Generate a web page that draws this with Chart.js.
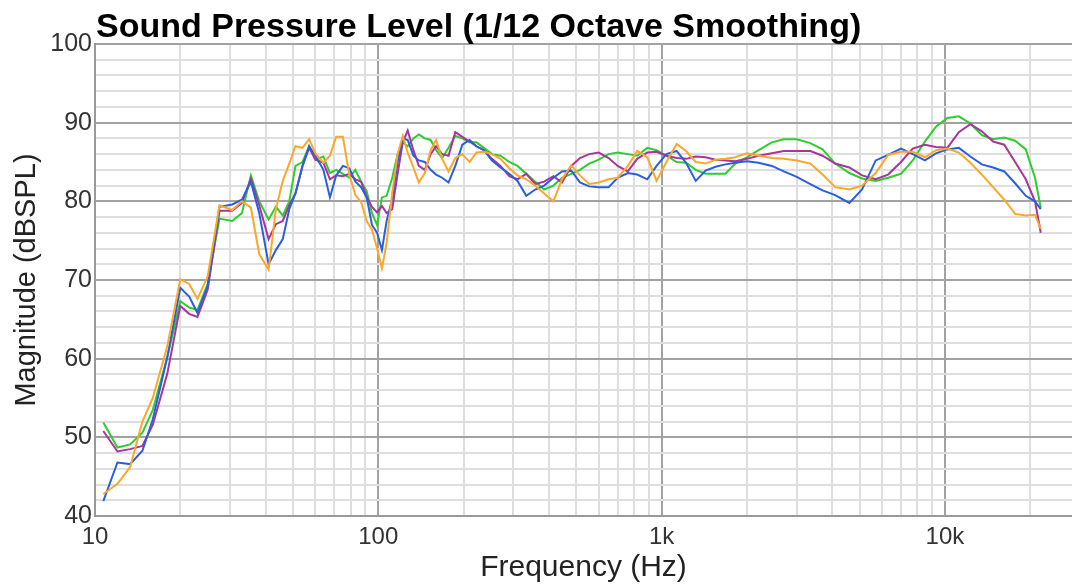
<!DOCTYPE html>
<html>
<head>
<meta charset="utf-8">
<script src="https://cdn.jsdelivr.net/npm/chart.js@4.4.1/dist/chart.umd.min.js"></script>
<style>
  html, body { margin: 0; padding: 0; background: #fff; }
  #wrap { width: 1072px; height: 588px; }
</style>
</head>
<body>
<div id="wrap"><canvas id="splChart" width="1072" height="588"></canvas></div>
<script>
// frequency points (Hz) shared by every measurement
const freqs = [
  10.7, 12, 13.3, 14.7, 16, 18, 20, 21.5, 23, 25,
  27.5, 30.5, 33, 35.5, 38, 41, 43.5, 46, 48.5, 51,
  54, 57, 60, 64, 67.5, 71, 75, 79, 83, 87,
  91, 95, 99, 103, 107, 112, 117, 122, 127, 133,
  139, 146, 153, 160, 168, 177, 187, 198, 210, 222,
  236, 252, 270, 290, 310, 333, 358, 385, 415, 445,
  480, 515, 555, 600, 650, 700, 760, 820, 890, 960,
  1040, 1130, 1220, 1320, 1430, 1550, 1680, 1820, 2000, 2200,
  2450, 2700, 3000, 3350, 3700, 4100, 4600, 5100, 5700, 6300,
  7000, 7700, 8500, 9300, 10200, 11200, 12300, 13500, 14800, 16200,
  17700, 19300, 20800, 21800
];

// SPL in dB
const greenSpl = [
  51.9, 48.7, 49.1, 50.6, 53.5, 60.2, 67.3, 66.5, 66.2, 69.5,
  77.8, 77.5, 78.5, 83.3, 80.0, 77.7, 79.3, 78.2, 80.0, 84.5,
  85.0, 87.0, 85.3, 85.7, 83.6, 84.0, 83.5, 83.0, 84.0, 82.5,
  81.3, 78.5, 77.0, 80.5, 80.7, 83.0, 86.0, 87.5, 87.0, 88.0,
  88.5, 88.0, 87.8, 86.5, 85.5, 86.8, 88.3, 88.0, 87.5, 87.5,
  86.8, 86.0, 85.8, 85.0, 84.5, 83.5, 82.5, 81.5, 82.0, 83.0,
  83.5, 84.0, 84.8, 85.3, 86.0, 86.2, 86.0, 85.8, 86.8, 86.5,
  85.8, 85.0, 84.9, 84.0, 83.5, 83.5, 83.5, 84.8, 85.6, 86.5,
  87.5, 87.9, 87.9, 87.4, 86.6, 84.8, 83.6, 82.9, 82.6, 83.0,
  83.5, 85.2, 87.6, 89.5, 90.6, 90.8, 89.9, 88.4, 87.9, 88.1,
  87.7, 86.6, 83.0, 79.2
];
const magentaSpl = [
  50.8, 48.2, 48.5, 48.9, 51.6, 58.1, 66.7, 65.7, 65.3, 68.8,
  78.8, 78.8, 79.8, 82.9, 79.5, 75.2, 77.1, 77.5, 79.5, 81.0,
  84.5, 86.8, 85.3, 84.9, 82.8, 83.3, 83.2, 83.5, 82.8, 82.5,
  80.6, 79.3, 78.6, 79.4, 78.5, 79.0, 83.5, 87.5, 89.0, 86.5,
  84.5, 84.0, 86.0, 87.0, 86.0, 85.8, 88.8, 88.2, 87.6, 87.0,
  86.5, 85.4, 84.5, 83.2, 82.8, 83.5, 82.2, 82.5, 83.2, 82.4,
  84.5, 85.5, 86.0, 86.2, 85.5, 84.5, 83.8, 85.4, 86.2, 86.3,
  85.8, 85.5, 85.4, 85.7, 85.6, 85.3, 85.2, 85.1, 85.4, 85.8,
  86.1, 86.4, 86.4, 86.4, 85.8, 84.8, 84.3, 83.3, 82.8, 83.4,
  85.0, 86.7, 87.2, 86.9, 86.8, 88.8, 89.8, 88.9, 87.6, 87.2,
  85.0, 82.8, 80.0, 76.0
];
const blueSpl = [
  41.9, 46.8, 46.6, 48.3, 52.3, 60.2, 69.0, 67.9, 65.8, 69.3,
  79.3, 79.6, 80.2, 82.5, 78.5, 72.0, 73.8, 75.2, 79.0, 81.0,
  84.5, 87.0, 85.8, 84.0, 80.5, 83.3, 84.5, 84.2, 82.5, 81.8,
  80.5, 77.0, 76.0, 73.8, 77.5, 80.3, 85.0, 88.0, 87.8, 85.8,
  85.2, 85.0, 84.0, 83.4, 83.0, 82.4, 84.5, 87.2, 87.8, 87.0,
  86.5, 85.2, 84.3, 83.5, 82.6, 80.7, 81.5, 82.0, 83.0, 83.8,
  83.9, 82.4, 81.9, 81.8, 81.8, 83.0, 83.6, 83.4, 82.8, 84.5,
  86.0, 86.4, 84.9, 82.6, 83.9, 84.4, 84.7, 84.9, 85.1, 84.9,
  84.5, 83.8, 83.1, 82.2, 81.4, 80.8, 79.8, 81.5, 85.2, 85.9,
  86.7, 86.0, 85.2, 86.1, 86.6, 86.8, 85.7, 84.7, 84.3, 83.8,
  82.3, 80.7, 80.0, 79.0
];
const orangeSpl = [
  42.8, 44.1, 46.2, 52.0, 55.0, 61.6, 70.1, 69.5, 67.6, 70.5,
  79.5, 78.9, 80.0, 79.2, 73.3, 71.3, 79.0, 82.6, 84.8, 87.0,
  86.8, 87.9, 86.1, 84.9, 85.8, 88.2, 88.2, 83.4, 80.8, 79.9,
  77.5, 76.4, 74.0, 71.5, 74.7, 81.1, 86.0, 88.3, 86.2, 84.3,
  82.4, 83.6, 86.5, 87.8, 85.4, 83.8, 85.5, 86.0, 85.0, 86.2,
  86.3, 86.0, 85.4, 84.2, 83.3, 82.8, 82.0, 81.0, 80.0, 82.8,
  84.6, 83.3, 82.2, 82.4, 82.8, 83.0, 84.5, 86.4, 85.6, 82.6,
  85.0, 87.3, 86.4, 85.0, 84.8, 85.3, 85.4, 85.6, 86.1, 85.8,
  85.5, 85.4, 85.2, 84.8, 83.4, 81.8, 81.5, 82.0, 83.6, 85.9,
  86.3, 86.3, 85.6, 86.5, 86.7, 86.2, 84.9, 83.4, 81.8, 80.2,
  78.4, 78.2, 78.3, 76.5
];

const xDecades = [10, 100, 1000, 10000];
const xDecadeLabels = ['10', '100', '1k', '10k'];
const yLabelValues = [40, 50, 60, 70, 80, 90, 100];

const X_MIN = 10, X_MAX = 28100;
const MAJOR_GRID = '#a2a2a2';
const MINOR_GRID = '#dedede';
const FONT = '"Liberation Sans", Arial, sans-serif';

function toPoints(vals) {
  return freqs.map((f, i) => ({ x: f, y: vals[i] }));
}

function isDecade(v) {
  return xDecades.includes(Math.round(v));
}

// title sits over the left edge of the plot, so draw it by hand
const titlePlugin = {
  id: 'plotTitle',
  afterDraw(chart) {
    const ctx = chart.ctx;
    ctx.save();
    ctx.fillStyle = '#000';
    ctx.font = 'bold 34px ' + FONT;
    ctx.textBaseline = 'alphabetic';
    ctx.textAlign = 'left';
    ctx.fillText('Sound Pressure Level (1/12 Octave Smoothing)', chart.chartArea.left + 1, 37);
    ctx.restore();
  }
};

function line(label, vals, color) {
  return {
    label: label,
    data: toPoints(vals),
    borderColor: color,
    borderWidth: 2,
    pointRadius: 0,
    tension: 0,
    fill: false
  };
}

const ctx = document.getElementById('splChart').getContext('2d');
new Chart(ctx, {
  type: 'line',
  data: {
    datasets: [
      line('Orange', orangeSpl, '#fca72a'),
      line('Blue', blueSpl, '#2a5fdc'),
      line('Magenta', magentaSpl, '#a8359c'),
      line('Green', greenSpl, '#2fcc2f')
    ]
  },
  options: {
    responsive: false,
    animation: false,
    devicePixelRatio: 1,
    layout: { padding: { top: 44, right: 0, left: 0, bottom: 0 } },
    plugins: {
      legend: { display: false },
      tooltip: { enabled: false },
      title: { display: false }
    },
    scales: {
      x: {
        type: 'logarithmic',
        min: X_MIN,
        max: X_MAX,
        afterBuildTicks(scale) {
          const t = [];
          xDecades.forEach(d => {
            for (let m = 1; m <= 9; m++) {
              if (d * m <= X_MAX) t.push({ value: d * m });
            }
          });
          scale.ticks = t;
        },
        afterFit(scale) { scale.height = 72; },
        ticks: {
          autoSkip: false,
          maxRotation: 0,
          padding: 7,
          color: '#333',
          font: { family: FONT, size: 24 },
          callback(v) {
            const i = xDecades.indexOf(Math.round(v));
            return i >= 0 ? xDecadeLabels[i] : '';
          }
        },
        grid: {
          drawTicks: false,
          color: c => isDecade(c.tick.value) ? MAJOR_GRID : MINOR_GRID,
          lineWidth: 2
        },
        border: { display: true, color: '#999', width: 2 },
        title: {
          display: true,
          text: 'Frequency (Hz)',
          color: '#222',
          padding: { top: 0, bottom: 2 },
          font: { family: FONT, size: 30 }
        }
      },
      y: {
        min: 40,
        max: 100,
        afterBuildTicks(scale) {
          const t = [];
          for (let v = 40; v <= 100; v += 2) t.push({ value: v });
          scale.ticks = t;
        },
        afterFit(scale) { scale.width = 95; },
        ticks: {
          autoSkip: false,
          padding: 3,
          color: '#333',
          font: { family: FONT, size: 25 },
          callback(v) { return yLabelValues.includes(v) ? String(v) : ''; }
        },
        grid: {
          drawTicks: false,
          color: c => c.tick.value % 10 === 0 ? MAJOR_GRID : MINOR_GRID,
          lineWidth: 2
        },
        border: { display: true, color: '#999', width: 2 },
        title: {
          display: true,
          text: 'Magnitude (dBSPL)',
          color: '#222',
          padding: { top: 10, bottom: 0 },
          font: { family: FONT, size: 29 }
        }
      }
    }
  },
  plugins: [titlePlugin]
});
</script>
</body>
</html>
